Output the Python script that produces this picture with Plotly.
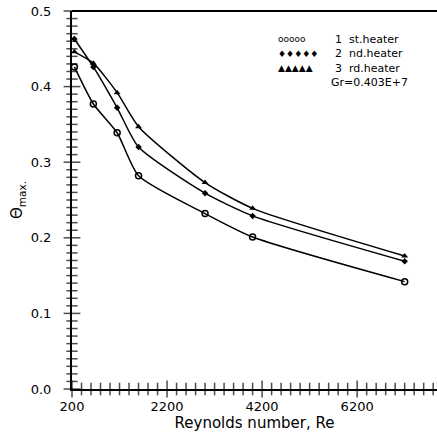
import numpy as np
import plotly.graph_objects as go

re_vals = [250, 650, 1150, 1600, 3000, 4000, 7200]
heater1 = [0.426, 0.377, 0.339, 0.282, 0.232, 0.201, 0.142]
heater2 = [0.463, 0.426, 0.372, 0.320, 0.259, 0.229, 0.169]
heater3 = [0.446, 0.431, 0.392, 0.347, 0.273, 0.239, 0.176]
x_tick0, x_dtick, x_minor = 200, 2000, 200
y_dtick, y_minor = 0.1, 0.01
x_range = [200, 7880]
y_range = [0, 0.5]

fig = go.Figure()
line = dict(color="black", width=1.5, shape="spline", smoothing=0.6)
fig.add_trace(go.Scatter(x=re_vals, y=heater1, mode="lines+markers", line=line,
                         marker=dict(symbol="circle-open", size=6, color="black", line=dict(width=1.5))))
fig.add_trace(go.Scatter(x=re_vals, y=heater2, mode="lines+markers", line=line,
                         marker=dict(symbol="diamond", size=5, color="black")))
fig.add_trace(go.Scatter(x=re_vals, y=heater3, mode="lines+markers", line=line,
                         marker=dict(symbol="triangle-up", size=6, color="black")))

# axis tick marks drawn as unclipped line markers on the axes
xt = np.arange(x_range[0], x_range[1] + 1, x_minor)
xt_major = [abs((v - x_tick0) % x_dtick) < 1e-6 for v in xt]
yt = np.round(np.arange(y_range[0], y_range[1] + 1e-9, y_minor), 3)
yt_major = [abs(round(v / y_dtick) * y_dtick - v) < 1e-9 for v in yt]
fig.add_trace(go.Scatter(x=xt, y=[y_range[0]] * len(xt), mode="markers", cliponaxis=False,
                         hoverinfo="skip",
                         marker=dict(symbol="line-ns-open", color="black",
                                     size=[12 if m else 9 for m in xt_major],
                                     line=dict(color="black", width=1.5))))
fig.add_trace(go.Scatter(x=[x_range[0]] * len(yt), y=yt, mode="markers", cliponaxis=False,
                         hoverinfo="skip",
                         marker=dict(symbol="line-ew-open", color="black",
                                     size=[12 if m else 8 for m in yt_major],
                                     line=dict(color="black", width=1.5))))

W, H = 437, 435
ml, mr, mt, mb = 72, 0, 11, 46

fam = "DejaVu Sans, Liberation Sans, sans-serif"
font = dict(family=fam, size=13, color="black")
fig.update_layout(
    template="none",
    width=W, height=H, margin=dict(l=ml, r=mr, t=mt, b=mb),
    paper_bgcolor="white", plot_bgcolor="white", showlegend=False, font=font,
    xaxis=dict(range=x_range, tickmode="linear", tick0=x_tick0, dtick=x_dtick,
               ticks="", ticklabelstandoff=4,
               showline=True, linecolor="black", linewidth=2, mirror=False,
               showgrid=False, zeroline=False, tickfont=dict(size=13),
               title=dict(text="Reynolds number, Re", font=dict(size=15), standoff=0)),
    yaxis=dict(range=y_range, tickmode="linear", tick0=0, dtick=y_dtick, tickformat=".1f",
               ticks="", ticklabelstandoff=16,
               showline=True, linecolor="black", linewidth=2,
               showgrid=False, zeroline=False, tickfont=dict(size=13),
               title=dict(text="Θ<sub>max.</sub>", font=dict(size=15), standoff=4)),
)

fig.add_shape(type="line", xref="paper", yref="paper", x0=0, x1=1, y0=1, y1=1,
              line=dict(color="black", width=2))

leg_font = dict(family=fam, size=11, color="black")
legend_rows = [("ooooo", "1  st.heater"), ("♦♦♦♦♦", "2  nd.heater"), ("▲▲▲▲▲", "3  rd.heater")]
for i, (sym, txt) in enumerate(legend_rows):
    yp = 0.925 - i * 0.038
    fig.add_annotation(xref="paper", yref="paper", x=0.56, y=yp, text=sym, showarrow=False,
                       xanchor="left", yanchor="middle", font=dict(leg_font, size=9))
    fig.add_annotation(xref="paper", yref="paper", x=0.715, y=yp, text=txt, showarrow=False,
                       xanchor="left", yanchor="middle", font=leg_font)
fig.add_annotation(xref="paper", yref="paper", x=0.705, y=0.925 - 3 * 0.038, text="Gr=0.403E+7",
                   showarrow=False, xanchor="left", yanchor="middle", font=leg_font)

fig.write_html("out.html")
